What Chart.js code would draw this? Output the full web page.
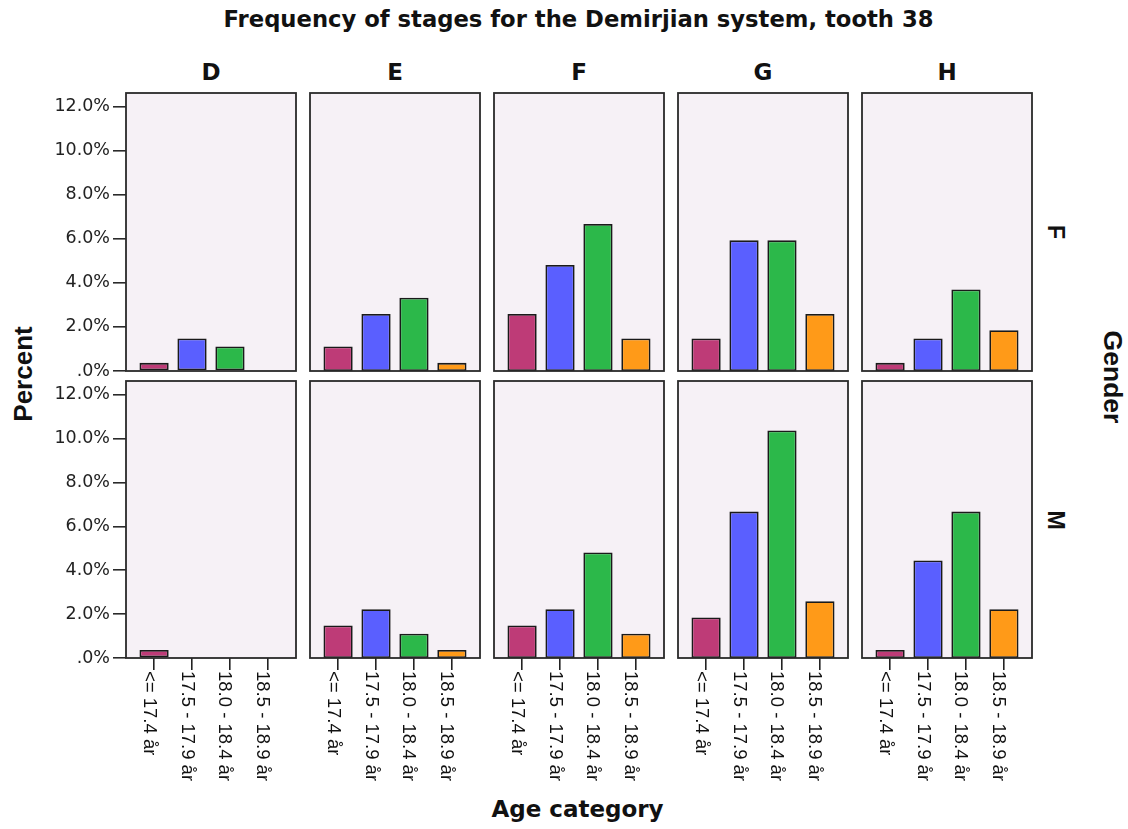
<!DOCTYPE html>
<html>
<head>
<meta charset="utf-8">
<script src="https://cdn.jsdelivr.net/npm/chart.js@4/dist/chart.umd.min.js"></script>
<style>
html,body{margin:0;padding:0;background:#fff;width:1128px;height:829px;overflow:hidden;}
#wrap{position:relative;width:1128px;height:829px;}
canvas{position:absolute;}
.lbl{position:absolute;white-space:nowrap;color:#111;font-weight:bold;transform:translate(-50%,-50%);}
.dv{font-family:"DejaVu Sans",sans-serif;}
.ls{font-family:"Liberation Sans",Arial,sans-serif;}
</style>
</head>
<body>
<div id="wrap">
  <div class="lbl dv" style="left:578.5px;top:18.5px;font-size:22.7px;line-height:22.7px;">Frequency of stages for the Demirjian system, tooth 38</div>
  <div class="lbl dv" style="left:577.5px;top:808.5px;font-size:23px;line-height:23px;">Age category</div>
  <div class="lbl ls" style="left:23px;top:374px;font-size:26px;line-height:26px;transform:translate(-50%,-50%) rotate(-90deg);">Percent</div>
  <div class="lbl ls" style="left:1112.5px;top:376.5px;font-size:26.5px;line-height:26.5px;transform:translate(-50%,-50%) rotate(90deg);">Gender</div>
</div>
<script>
// ---------- data ----------
const stages = ['D', 'E', 'F', 'G', 'H'];
const genders = ['F', 'M'];
const ageCategories = ['<= 17.4 år', '17.5 - 17.9 år', '18.0 - 18.4 år', '18.5 - 18.9 år'];
const yTickValues = [0, 2, 4, 6, 8, 10, 12];

// percent per age category (female)
const femaleD = [0.37, 1.48, 1.11, 0];
const femaleE = [1.11, 2.59, 3.33, 0.37];
const femaleF = [2.59, 4.81, 6.67, 1.48];
const femaleG = [1.48, 5.93, 5.93, 2.59];
const femaleH = [0.37, 1.48, 3.70, 1.85];
// percent per age category (male)
const maleD = [0.37, 0, 0, 0];
const maleE = [1.48, 2.22, 1.11, 0.37];
const maleF = [1.48, 2.22, 4.81, 1.11];
const maleG = [1.85, 6.67, 10.37, 2.59];
const maleH = [0.37, 4.44, 6.67, 2.22];

const panelValues = {
  F: [femaleD, femaleE, femaleF, femaleG, femaleH],
  M: [maleD, maleE, maleF, maleG, maleH]
};
const barColors = ['#BE3B77', '#5A5FFF', '#2CB84A', '#FF9A18'];

// ---------- layout ----------
const colLeft = [126, 310, 494, 678, 862];
const panelW = 170;
const rowTop = [93, 381];
const rowH = [278, 277];
const yMax = 12.62;
const wrap = document.getElementById('wrap');

stages.forEach((s, c) => {
  const d = document.createElement('div');
  d.className = 'lbl dv';
  d.style.cssText = `left:${colLeft[c] + panelW / 2}px;top:71.5px;font-size:23px;line-height:23px;`;
  d.textContent = s;
  wrap.appendChild(d);
});
genders.forEach((g, r) => {
  const d = document.createElement('div');
  d.className = 'lbl ls';
  d.style.cssText = `left:1055px;top:${rowTop[r] + rowH[r] / 2}px;font-size:23px;line-height:23px;transform:translate(-50%,-50%) rotate(90deg);`;
  d.textContent = g;
  wrap.appendChild(d);
});

const panelPlugin = {
  id: 'panelFrame',
  beforeDraw(chart) {
    const { ctx, chartArea: a } = chart;
    ctx.save();
    ctx.fillStyle = '#F6F1F6';
    ctx.fillRect(a.left, a.top, a.right - a.left, a.bottom - a.top);
    ctx.restore();
  },
  afterDatasetsDraw(chart) {
    const { ctx, chartArea: a } = chart;
    ctx.save();
    ctx.strokeStyle = '#2a2a2a';
    ctx.lineWidth = 1.8;
    ctx.strokeRect(a.left, a.top, a.right - a.left, a.bottom - a.top);
    ctx.restore();
  }
};

const xLabelPlugin = {
  id: 'xLabels',
  afterDraw(chart) {
    const { ctx, chartArea, scales: { x } } = chart;
    ctx.save();
    ctx.font = '18.5px "Liberation Sans", Arial, sans-serif';
    ctx.fillStyle = '#111';
    ctx.textAlign = 'left';
    ctx.textBaseline = 'alphabetic';
    ageCategories.forEach((lab, i) => {
      const px = x.getPixelForValue(i);
      ctx.save();
      ctx.translate(px, chartArea.bottom + 13);
      ctx.rotate(Math.PI / 2);
      ctx.fillText(lab, 0, 10.5);
      ctx.restore();
    });
    ctx.restore();
  }
};

genders.forEach((g, r) => {
  stages.forEach((s, c) => {
    const firstCol = c === 0;
    const bottom = r === 1;
    const padL = firstCol ? 0 : 4;
    const yW = firstCol ? 126 : 0;
    const padT = 14, padR = 4;
    const padB = bottom ? 0 : 14;
    const xH = bottom ? 135 : 0;
    const W = padL + yW + panelW + padR;
    const H = padT + rowH[r] + padB + xH;
    const cv = document.createElement('canvas');
    cv.width = W; cv.height = H;
    cv.style.left = (colLeft[c] - padL - yW) + 'px';
    cv.style.top = (rowTop[r] - padT) + 'px';
    cv.style.width = W + 'px';
    cv.style.height = H + 'px';
    wrap.appendChild(cv);

    const vals = panelValues[g][c];
    new Chart(cv, {
      type: 'bar',
      data: {
        datasets: [{
          data: vals.map((v, i) => ({ x: i, y: v })),
          backgroundColor: barColors,
          borderColor: '#1a1a1a',
          borderWidth: 1.8,
          borderSkipped: false,
          barPercentage: 0.77,
          categoryPercentage: 1
        }]
      },
      options: {
        responsive: false,
        animation: false,
        events: [],
        layout: { padding: { left: padL, top: padT, right: padR, bottom: padB } },
        plugins: { legend: { display: false }, tooltip: { enabled: false }, title: { display: false } },
        scales: {
          x: {
            type: 'linear', min: -0.74, max: 3.74, display: bottom, offset: false,
            afterBuildTicks: sc => { sc.ticks = ageCategories.map((_, i) => ({ value: i })); },
            afterFit: sc => { sc.height = xH; },
            ticks: { display: false },
            grid: { offset: false, drawOnChartArea: false, drawTicks: true, tickLength: 12, color: '#222', lineWidth: 1.6 },
            border: { display: false }
          },
          y: {
            type: 'linear', min: 0, max: yMax, display: firstCol,
            afterBuildTicks: sc => { sc.ticks = yTickValues.map(v => ({ value: v })); },
            afterFit: sc => { sc.width = yW; },
            ticks: {
              callback: v => (v === 0 ? '.0%' : v.toFixed(1) + '%'),
              font: { family: 'DejaVu Sans', size: 17.5 },
              color: '#222',
              padding: 3
            },
            grid: { drawOnChartArea: false, drawTicks: true, tickLength: 13, color: '#2a2a2a', lineWidth: 1.6 },
            border: { display: false }
          }
        }
      },
      plugins: bottom ? [panelPlugin, xLabelPlugin] : [panelPlugin]
    });
  });
});
</script>
</body>
</html>
